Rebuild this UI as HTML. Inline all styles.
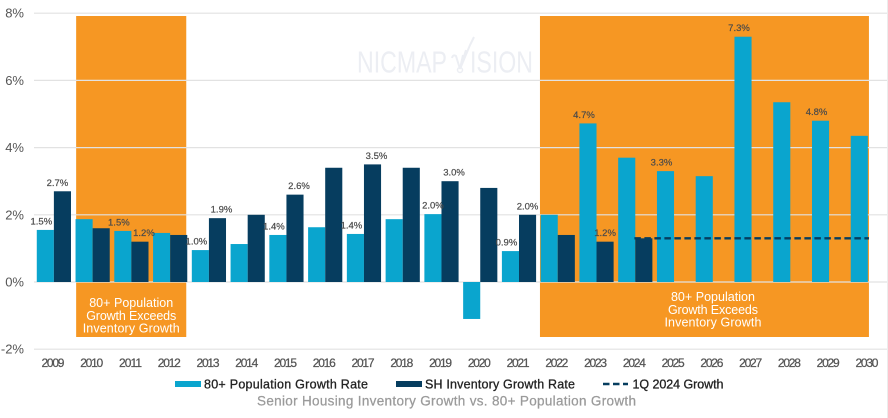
<!DOCTYPE html>
<html lang="en">
<head>
<meta charset="utf-8">
<title>Senior Housing Inventory Growth vs. 80+ Population Growth</title>
<style>
  html, body { margin: 0; padding: 0; background: #fff; }
  svg { display: block; }
  text { font-family: "Liberation Sans", sans-serif; }
</style>
</head>
<body>
<svg id="chart" width="888" height="418" viewBox="0 0 888 418" xmlns="http://www.w3.org/2000/svg">
  <g id="bands"></g>
  <g id="watermark" fill="#eceef3">
    <text x="357" y="72.5" font-size="31" textLength="90" lengthAdjust="spacingAndGlyphs">NICMAP</text>
    <text x="470" y="72.5" font-size="31" textLength="63" lengthAdjust="spacingAndGlyphs">ISION</text>
    <path d="M452 58 Q453 54 456 56 L460 69 M460 69 L463 55 M460 69 L466 50 M460 69 L470 45 L474 37" stroke="#eceef3" stroke-width="2" fill="none"/>
    <circle cx="460" cy="70" r="2.5" fill="none" stroke="#eceef3" stroke-width="1.5"/>
  </g>
  <g id="grid"></g>
  <g id="bars"></g>
  <g id="refline"></g>
  <g id="labels"></g>
  <g id="yaxis"></g>
  <g id="xaxis"></g>
  <g id="legend">
    <g>
      <rect x="175" y="381" width="26" height="6" fill="#0aa5ce"/>
      <text x="204" y="388.5" font-size="12.5" fill="#222" stroke="#222" stroke-width="0.3" textLength="164" lengthAdjust="spacing">80+ Population Growth Rate</text>
    </g>
    <g>
      <rect x="396" y="381" width="26" height="6" fill="#063d5f"/>
      <text x="425" y="388.5" font-size="12.5" fill="#222" stroke="#222" stroke-width="0.3" textLength="150" lengthAdjust="spacing">SH Inventory Growth Rate</text>
    </g>
    <g>
      <line x1="603" y1="384" x2="628" y2="384" stroke="#063d5f" stroke-width="2.4" stroke-dasharray="6.5 3.5"/>
      <text x="632.5" y="388.5" font-size="12.5" fill="#222" stroke="#222" stroke-width="0.3" textLength="91" lengthAdjust="spacing">1Q 2024 Growth</text>
    </g>
  </g>
  <text x="257" y="405.5" font-size="13.5" fill="#9a9a9a" stroke="#9a9a9a" stroke-width="0.25" textLength="379" lengthAdjust="spacing">Senior Housing Inventory Growth vs. 80+ Population Growth</text>
  <rect x="887" y="0" width="1" height="418" fill="#ececec"/>
</svg>
<script>
const years = [2009,2010,2011,2012,2013,2014,2015,2016,2017,2018,2019,2020,2021,2022,2023,2024,2025,2026,2027,2028,2029,2030];
const populationGrowth = [1.55,1.87,1.52,1.46,0.95,1.13,1.4,1.63,1.43,1.87,2.02,-1.1,0.92,2.0,4.72,3.7,3.3,3.15,7.3,5.35,4.8,4.35];
const inventoryGrowth = [2.7,1.6,1.2,1.4,1.9,2.0,2.6,3.4,3.5,3.4,3.0,2.8,2.0,1.4,1.2,1.3,null,null,null,null,null,null];
const populationLabels = ["1.5%",null,"1.5%",null,"1.0%",null,"1.4%",null,"1.4%",null,"2.0%",null,"0.9%",null,"4.7%",null,"3.3%",null,"7.3%",null,"4.8%",null];
const inventoryLabels = ["2.7%",null,"1.2%",null,"1.9%",null,"2.6%",null,"3.5%",null,"3.0%",null,"2.0%",null,"1.2%",null,null,null,null,null,null,null];
const referenceGrowth = [null,null,null,null,null,null,null,null,null,null,null,null,null,null,null,1.3,1.3,1.3,1.3,1.3,1.3,1.3];
const yTicks = [8,6,4,2,0,-2];
const bandStartYears = [2010,2022];
const bandEndYears = [2012,2030];
const bandText = ["80+ Population","Growth Exceeds","Inventory Growth"];

const SVGNS = "http://www.w3.org/2000/svg";
const X0 = 33.6, STEP = 38.76, BAR = 17.1, BAR_SHIFT = 0.9, Y_ZERO = 282, PX_PER_UNIT = 33.6;
const xc = i => X0 + STEP * (i + 0.5);
const xb = i => xc(i) + BAR_SHIFT;
const yv = v => Y_ZERO - v * PX_PER_UNIT;

function mk(tag, parent, attrs, txt) {
  const el = document.createElementNS(SVGNS, tag);
  for (const k in attrs) el.setAttribute(k, attrs[k]);
  if (txt !== undefined) el.textContent = txt;
  document.getElementById(parent).appendChild(el);
  return el;
}

bandStartYears.forEach((from, b) => {
  const to = bandEndYears[b];
  const left = xc(years.indexOf(from)) - (b === 0 ? 15.6 : 16.9);
  const right = xc(years.indexOf(to)) + (to === years[years.length - 1] ? 2 : 17);
  const r = mk("rect", "bands", {x: left, y: 16, width: right - left, height: 321, fill: "#f69723"});
  
  
  const cx = b === 0 ? (left + right) / 2 : (left + right) / 2 + 8.5;
  const top = b === 0 ? 307 : 301;
  bandText.forEach((line, i) => {
    const t = mk("text", "labels", {x: cx, y: top + i * 12.8, "text-anchor": "middle", "font-size": 12.5, fill: "#fff"}, line);
    t.setAttribute('textLength', [84, 90, 97][i]);
    t.setAttribute('lengthAdjust', 'spacing');
    
    
  });
});

yTicks.forEach(v => {
  const y = yv(v);
  const gl = mk("line", "grid", {x1: 34, x2: 887, y1: y, y2: y, stroke: "#e2e2e2", "stroke-width": 1.2});
  
  
  const t = mk("text", "yaxis", {x: 24, y: y + 4.5, "text-anchor": "end", "font-size": 13, fill: "#555"}, v + "%");
  
  
});

years.forEach((yr, i) => {
  const t = mk("text", "xaxis", {x: xc(i), y: 367, "text-anchor": "middle", "font-size": 12, fill: "#555", stroke: "#555", "stroke-width": 0.25}, yr);
  t.setAttribute('textLength', 23);
  t.setAttribute('lengthAdjust', 'spacing');
  
  

  const p = populationGrowth[i];
  const pr = mk("rect", "bars", {x: xb(i) - BAR, y: Math.min(yv(p), Y_ZERO), width: BAR, height: Math.abs(p) * PX_PER_UNIT, fill: "#0aa5ce"});
  
  

  const q = inventoryGrowth[i];
  if (q !== null) {
    const ir = mk("rect", "bars", {x: xb(i), y: Math.min(yv(q), Y_ZERO), width: BAR, height: Math.abs(q) * PX_PER_UNIT, fill: "#063d5f"});
    
    
  }

  if (populationLabels[i]) {
    const dx = yr === 2019 ? 0 : -4;
    const l = mk("text", "labels", {x: xb(i) - BAR / 2 + dx, y: yv(p) - 5.5, "text-anchor": "middle", "font-size": 9.5, fill: "#4a4a4a", stroke: "#4a4a4a", "stroke-width": 0.2}, populationLabels[i]);
    
    
  }
  if (inventoryLabels[i]) {
    const dx = yr === 2009 ? -5 : (yr === 2021 || yr === 2023) ? 0 : 4;
    const l = mk("text", "labels", {x: xb(i) + BAR / 2 + dx, y: yv(q) - 5.5, "text-anchor": "middle", "font-size": 9.5, fill: "#4a4a4a", stroke: "#4a4a4a", "stroke-width": 0.2}, inventoryLabels[i]);
    
    
  }
});

const refPts = [];
referenceGrowth.forEach((v, i) => {
  if (v !== null) refPts.push((i === years.length - 1 ? xc(i) + 2 : xc(i)) + "," + yv(v));
});
const rl = mk("polyline", "refline", {points: refPts.join(" "), fill: "none", stroke: "#063d5f", "stroke-width": 2.4, "stroke-dasharray": "6.5 3.5"});


</script>
</body>
</html>
